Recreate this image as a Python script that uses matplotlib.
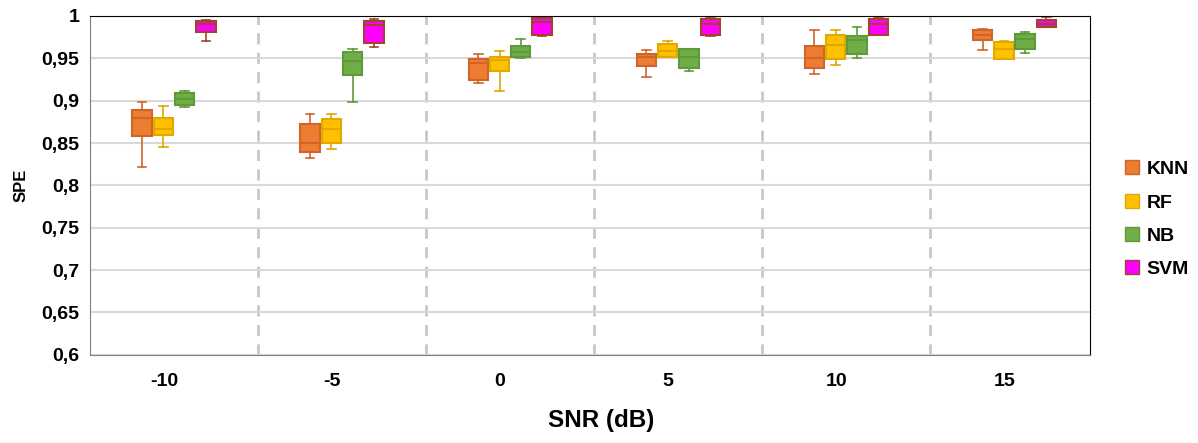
import matplotlib
matplotlib.use('Agg')
import matplotlib.pyplot as plt
from matplotlib.patches import Patch

plt.rcParams['font.family'] = ['Liberation Sans', 'DejaVu Sans']

# SNR groups on the x axis
snr_labels = ['-10', '-5', '0', '5', '10', '15']
models = ['KNN', 'RF', 'NB', 'SVM']

# per model, per SNR: whisker low, q1, median, q3, whisker high
knn_stats = [
    (0.822, 0.858, 0.879, 0.889, 0.898),
    (0.832, 0.839, 0.850, 0.873, 0.884),
    (0.921, 0.924, 0.945, 0.949, 0.955),
    (0.928, 0.941, 0.952, 0.955, 0.960),
    (0.931, 0.938, 0.950, 0.965, 0.984),
    (0.960, 0.972, 0.978, 0.983, 0.985),
]
rf_stats = [
    (0.845, 0.860, 0.867, 0.879, 0.894),
    (0.843, 0.850, 0.866, 0.878, 0.884),
    (0.912, 0.935, 0.948, 0.951, 0.959),
    (0.951, 0.952, 0.959, 0.967, 0.970),
    (0.942, 0.949, 0.966, 0.978, 0.984),
    (0.949, 0.949, 0.961, 0.969, 0.971),
]
nb_stats = [
    (0.892, 0.895, 0.902, 0.909, 0.912),
    (0.898, 0.930, 0.947, 0.957, 0.961),
    (0.950, 0.951, 0.957, 0.964, 0.973),
    (0.935, 0.939, 0.952, 0.961, 0.961),
    (0.950, 0.955, 0.972, 0.976, 0.987),
    (0.956, 0.961, 0.973, 0.979, 0.981),
]
svm_stats = [
    (0.971, 0.981, 0.991, 0.994, 0.995),
    (0.963, 0.968, 0.989, 0.994, 0.996),
    (0.976, 0.978, 0.993, 0.997, 0.999),
    (0.976, 0.978, 0.991, 0.996, 0.999),
    (0.978, 0.978, 0.991, 0.996, 0.999),
    (0.987, 0.987, 0.991, 0.995, 0.999),
]

fill_colors = ['#ED7D31', '#FFC000', '#70AD47', '#FF00FF']
edge_colors = ['#D0652A', '#E0A800', '#5E9A3A', '#A0442A']

y_ticks = [0.6, 0.65, 0.7, 0.75, 0.8, 0.85, 0.9, 0.95, 1.0]
y_tick_labels = ['0,6', '0,65', '0,7', '0,75', '0,8', '0,85', '0,9', '0,95', '1']

fig, ax = plt.subplots(figsize=(11.98, 4.43), dpi=100)
fig.subplots_adjust(left=0.075, right=0.91, top=0.964, bottom=0.199)

offsets = [-0.19, -0.063, 0.063, 0.19]
width = 0.115
all_stats = [knn_stats, rf_stats, nb_stats, svm_stats]

for m, stats in enumerate(all_stats):
    bxp_stats = []
    for lo, q1, med, q3, hi in stats:
        bxp_stats.append({'whislo': lo, 'q1': q1, 'med': med, 'q3': q3, 'whishi': hi, 'fliers': []})
    positions = [i + offsets[m] for i in range(len(snr_labels))]
    ec = edge_colors[m]
    ax.bxp(bxp_stats, positions=positions, widths=width, patch_artist=True,
           showfliers=False, manage_ticks=False,
           boxprops=dict(facecolor=fill_colors[m], edgecolor=ec, linewidth=1.5),
           medianprops=dict(color=ec, linewidth=1.5),
           whiskerprops=dict(color=ec, linewidth=1.2),
           capprops=dict(color=ec, linewidth=1.2),
           capwidths=width * 0.45)

# group separators
for i in range(len(snr_labels) - 1):
    ax.axvline(i + 0.5, color='#C8C8C8', linestyle=(0, (4, 3)), linewidth=2, zorder=0)

ax.set_xlim(-0.5, len(snr_labels) - 0.55)
ax.set_ylim(0.6, 1.0)
ax.set_yticks(y_ticks)
ax.set_yticklabels(y_tick_labels)
ax.set_xticks([i - 0.06 for i in range(len(snr_labels))])
ax.set_xticklabels(snr_labels)
ax.tick_params(axis='both', length=0, labelsize=14)
ax.tick_params(axis='y', pad=7.5)
ax.tick_params(axis='x', pad=13)
for lab in ax.get_xticklabels() + ax.get_yticklabels():
    lab.set_fontweight('bold')

ax.yaxis.grid(True, color='#D9D9D9', linewidth=1.5)
ax.set_axisbelow(True)

ax.spines['top'].set_color('black')
ax.spines['right'].set_color('black')
ax.spines['left'].set_color('#7F7F7F')
ax.spines['bottom'].set_color('#7F7F7F')

ax.set_xlabel('SNR (dB)', fontsize=17.5, fontweight='bold', labelpad=14)
ax.xaxis.label.set_x(0.511)
ax.set_ylabel('SPE', fontsize=12, fontweight='bold', labelpad=9)

handles = [Patch(facecolor=fill_colors[m], edgecolor=edge_colors[m], label=models[m])
           for m in range(len(models))]
ax.legend(handles=handles, loc='center left', bbox_to_anchor=(1.017, 0.40), frameon=False,
          prop={'weight': 'bold', 'size': 14}, handlelength=0.72, handleheight=0.72,
          labelspacing=0.8, handletextpad=0.4)

fig.savefig('out.png', dpi=100)
